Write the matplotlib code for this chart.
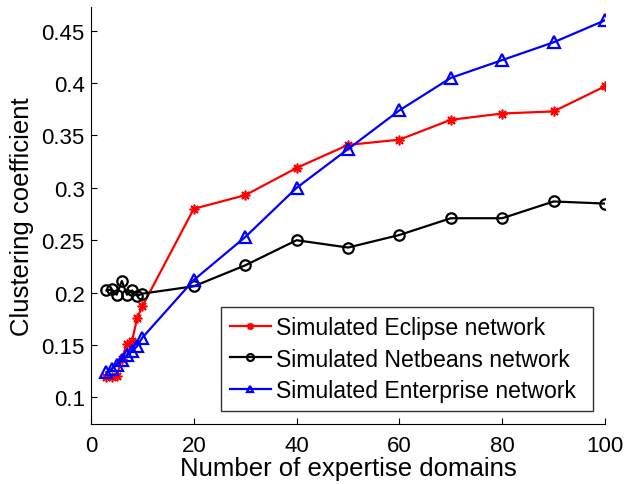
import matplotlib
matplotlib.use("Agg")
import matplotlib.pyplot as plt

plt.rcParams['font.family'] = ['Liberation Sans', 'DejaVu Sans']

# Number of expertise domains
domains = [3, 4, 5, 6, 7, 8, 9, 10, 20, 30, 40, 50, 60, 70, 80, 90, 100]

# Clustering coefficient for each simulated network
eclipse = [0.119, 0.119, 0.120, 0.137, 0.151, 0.154, 0.176, 0.187,
           0.280, 0.293, 0.319, 0.341, 0.346, 0.365, 0.371, 0.373, 0.397]
netbeans = [0.202, 0.203, 0.198, 0.211, 0.198, 0.202, 0.197, 0.199,
            0.206, 0.226, 0.250, 0.243, 0.255, 0.271, 0.271, 0.287, 0.285]
enterprise = [0.124, 0.127, 0.131, 0.136, 0.140, 0.144, 0.149, 0.157,
              0.212, 0.253, 0.300, 0.337, 0.374, 0.405, 0.422, 0.439, 0.460]

series_labels = ["Simulated Eclipse network",
                 "Simulated Netbeans network",
                 "Simulated Enterprise network"]

xticks = [0, 20, 40, 60, 80, 100]
yticks = [0.1, 0.15, 0.2, 0.25, 0.3, 0.35, 0.4, 0.45]
ytick_labels = ["0.1", "0.15", "0.2", "0.25", "0.3", "0.35", "0.4", "0.45"]

fig = plt.figure(figsize=(6.24, 4.85), dpi=100)
ax = fig.add_axes([0.1458, 0.1237, 0.8238, 0.8598])

ax.plot(domains, eclipse, color='#ff0000', lw=1.6, marker=(8, 2, 0),
        ms=7, mew=1.2, label=series_labels[0])
ax.plot(domains, netbeans, color='black', lw=1.6, marker='o', ms=7.5,
        mfc='none', mew=1.6, label=series_labels[1])
ax.plot(domains, enterprise, color='#0000ff', lw=1.6, marker='^', ms=8.5,
        mfc='none', mew=1.6, label=series_labels[2])

ax.set_xlim(0, 100)
ax.set_ylim(0.0745, 0.4727)
ax.set_xticks(xticks)
ax.set_yticks(yticks)
ax.set_yticklabels(ytick_labels)
ax.tick_params(direction='in', length=4, width=0.8, labelsize=16)
ax.tick_params(axis='x', pad=8)
ax.tick_params(axis='y', pad=4.5)
for s in ('top', 'right'):
    ax.spines[s].set_visible(False)
for s in ('left', 'bottom'):
    ax.spines[s].set_linewidth(0.8)

ax.set_xlabel("Number of expertise domains", fontsize=18.5, labelpad=0)
ax.set_ylabel("Clustering coefficient", fontsize=18.5, labelpad=5)

leg = ax.legend(loc='lower left', bbox_to_anchor=(0.2529, 0.031, 0.7238, 0),
                mode='expand', fontsize=16.6, frameon=True, fancybox=False,
                handlelength=1.75, handletextpad=0.22, borderpad=0.4,
                labelspacing=0.36, borderaxespad=0)
leg.get_frame().set_edgecolor('black')
leg.get_frame().set_linewidth(1.0)
for h in leg.legend_handles:
    h.set_markersize(5)

fig.savefig("out.png", dpi=100)
